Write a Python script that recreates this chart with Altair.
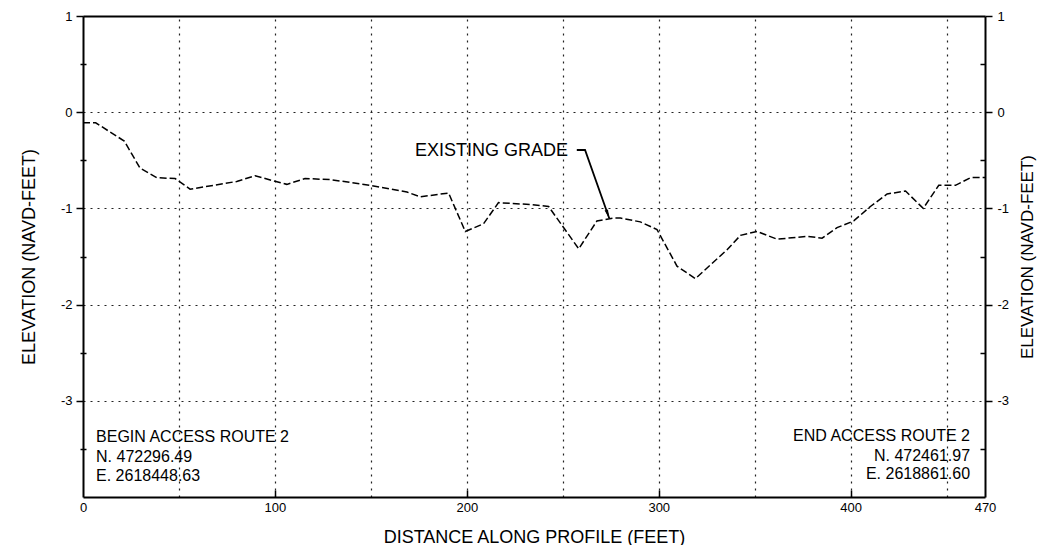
import altair as alt
import pandas as pd

# ---- profile data ----
dist = [0, 6.6, 21.5, 29.7, 38.4, 48, 55.8, 80.1, 89.7, 98.4, 106.2, 115.7, 128.7,
        149.6, 168.8, 175.7, 190.5, 199.2, 208.7, 216.5, 233, 242.6, 258.3, 267.8,
        276.5, 280, 290.4, 299.1, 309.5, 319.1, 335.6, 342.6, 351.2, 361.7, 377.3,
        385.1, 392.9, 401.6, 410.3, 419, 428.6, 437.8, 445.9, 454.6, 462.5, 467.7, 470]
elev = [-0.11, -0.11, -0.30, -0.58, -0.68, -0.69, -0.80, -0.72, -0.66, -0.71, -0.75,
        -0.69, -0.70, -0.76, -0.83, -0.88, -0.84, -1.24, -1.16, -0.94, -0.96, -0.98,
        -1.42, -1.13, -1.10, -1.10, -1.14, -1.22, -1.60, -1.73, -1.43, -1.28, -1.24,
        -1.32, -1.29, -1.31, -1.20, -1.13, -0.98, -0.85, -0.82, -1.00, -0.76, -0.76,
        -0.68, -0.68, -0.68]

# ---- axis values ----
x_domain = [0, 470]
y_domain = [-4, 1]
x_labels = [0, 100, 200, 300, 400, 470]
x_inner_ticks = [100, 200, 300, 400]
x_grid = [50, 100, 150, 200, 250, 300, 350, 400, 450]
y_labels = [1, 0, -1, -2, -3]
y_minor = [0.5, -0.5, -1.5, -2.5, -3.5]

x_title = "DISTANCE ALONG PROFILE (FEET)"
y_title = "ELEVATION (NAVD-FEET)"

# ---- annotations ----
grade_label = ["EXISTING GRADE"]
grade_label_x = [252.7]
grade_label_y = [-0.40]
leader_x = [257.3, 261.6, 274.2]
leader_y = [-0.393, -0.393, -1.103]
arrow_tip_x = [274.2]
arrow_tip_y = [-1.103]

begin_lines = ["BEGIN ACCESS ROUTE 2", "N. 472296.49", "E. 2618448.63"]
begin_x = [6.8, 6.8, 6.8]
begin_y = [-3.376, -3.586, -3.784]
end_lines = ["END ACCESS ROUTE 2", "N. 472461.97", "E. 2618861.60"]
end_x = [462.2, 462.2, 462.2]
end_y = [-3.369, -3.569, -3.766]

FONT = "Liberation Sans"
PLAIN = "'' + datum.value"

profile = pd.DataFrame({"dist": dist, "elev": elev})
xs = alt.Scale(domain=x_domain, nice=False, zero=False)
ys = alt.Scale(domain=y_domain, nice=False, zero=False)

# main dashed line with bottom + left axes
bottom_axis = alt.Axis(
    orient="bottom", values=x_labels, ticks=False, grid=False, domain=True,
    domainColor="black", domainWidth=2, labelFont=FONT, labelFontSize=13,
    labelColor="black", labelPadding=4, labelFlush=False, labelOverlap=False,
    labelExpr=PLAIN, title=x_title, titleFont=FONT, titleFontSize=18,
    titleFontWeight="normal", titleColor="black", titleX=451, titleY=45,
    titleAlign="center", titleBaseline="alphabetic",
)
left_axis = alt.Axis(
    orient="left", values=y_labels, ticks=True, tickSize=7, tickColor="black",
    tickWidth=1.5, grid=True, gridColor="#222222", gridDash=[2, 5], gridWidth=1.2,
    domain=True, domainColor="black", domainWidth=2, labelFont=FONT,
    labelFontSize=13, labelColor="black", labelPadding=4, labelExpr=PLAIN,
    title=y_title, titleFont=FONT, titleFontSize=18, titleFontWeight="normal",
    titleColor="black", titleX=-54, titleY=240.5, titleAngle=270,
    titleAlign="center", titleBaseline="middle",
)
line = alt.Chart(profile).mark_line(
    color="black", strokeWidth=1.5, strokeDash=[7, 3]
).encode(
    x=alt.X("dist:Q", scale=xs, axis=bottom_axis),
    y=alt.Y("elev:Q", scale=ys, axis=left_axis),
)

# frame: top border + vertical grid, right axis
top_axis = alt.Axis(
    orient="top", values=x_grid, labels=False, ticks=False, grid=True,
    gridColor="#222222", gridDash=[2, 5], gridWidth=1.2, domain=True,
    domainColor="black", domainWidth=2, title=None,
)
right_axis = alt.Axis(
    orient="right", values=y_labels, ticks=True, tickSize=7, tickColor="black",
    tickWidth=1.5, grid=False, domain=True, domainColor="black", domainWidth=2,
    labelFont=FONT, labelFontSize=13, labelColor="black", labelPadding=5,
    labelExpr=PLAIN, title=y_title, titleFont=FONT, titleFontSize=17,
    titleFontWeight="normal", titleColor="black", titleX=42, titleY=240.5,
    titleAngle=270, titleAlign="center", titleBaseline="middle",
)
frame = alt.Chart(profile).mark_line(opacity=0).encode(
    x=alt.X("dist:Q", scale=xs, axis=top_axis),
    y=alt.Y("elev:Q", scale=ys, axis=right_axis),
)

# inward ticks on the bottom axis and minor ticks on the left
inner_x_axis = alt.Axis(
    orient="bottom", values=x_inner_ticks, offset=-7, ticks=True, tickSize=7,
    tickColor="black", tickWidth=1.5, labels=False, domain=False, grid=False,
    title=None,
)
minor_left_axis = alt.Axis(
    orient="left", values=y_minor, offset=-3, ticks=True, tickSize=6,
    tickColor="black", tickWidth=1.5, labels=False, domain=False, grid=False,
    title=None,
)
ticks1 = alt.Chart(profile).mark_line(opacity=0).encode(
    x=alt.X("dist:Q", scale=xs, axis=inner_x_axis),
    y=alt.Y("elev:Q", scale=ys, axis=minor_left_axis),
)
minor_right_axis = alt.Axis(
    orient="right", values=y_minor, offset=-5, ticks=True, tickSize=5,
    tickColor="black", tickWidth=1.5, labels=False, domain=False, grid=False,
    title=None,
)
ticks2 = alt.Chart(profile).mark_line(opacity=0).encode(
    x=alt.X("dist:Q", scale=xs, axis=None),
    y=alt.Y("elev:Q", scale=ys, axis=minor_right_axis),
)

# annotations
grade_df = pd.DataFrame({"label": grade_label, "x": grade_label_x, "y": grade_label_y})
grade_text = alt.Chart(grade_df).mark_text(
    align="right", baseline="middle", font=FONT, fontSize=18, color="black"
).encode(
    x=alt.X("x:Q", scale=xs, axis=None),
    y=alt.Y("y:Q", scale=ys, axis=None),
    text="label:N",
)
leader_df = pd.DataFrame({"x": leader_x, "y": leader_y, "o": list(range(len(leader_x)))})
leader = alt.Chart(leader_df).mark_line(color="black", strokeWidth=1.8).encode(
    x=alt.X("x:Q", scale=xs, axis=None),
    y=alt.Y("y:Q", scale=ys, axis=None),
    order="o:Q",
)
tip_df = pd.DataFrame({"x": arrow_tip_x, "y": arrow_tip_y})
arrow_head = alt.Chart(tip_df).mark_point(
    shape="M0,0 L-0.45,-2.2 L0.45,-2.2 Z", filled=True, color="black",
    opacity=1, size=64, angle=340.4,
).encode(
    x=alt.X("x:Q", scale=xs, axis=None),
    y=alt.Y("y:Q", scale=ys, axis=None),
)

begin_df = pd.DataFrame({"label": begin_lines, "x": begin_x, "y": begin_y})
begin_text = alt.Chart(begin_df).mark_text(
    align="left", baseline="middle", font=FONT, fontSize=16, color="black"
).encode(
    x=alt.X("x:Q", scale=xs, axis=None),
    y=alt.Y("y:Q", scale=ys, axis=None),
    text="label:N",
)
end_df = pd.DataFrame({"label": end_lines, "x": end_x, "y": end_y})
end_text = alt.Chart(end_df).mark_text(
    align="right", baseline="middle", font=FONT, fontSize=16, color="black"
).encode(
    x=alt.X("x:Q", scale=xs, axis=None),
    y=alt.Y("y:Q", scale=ys, axis=None),
    text="label:N",
)

chart = alt.layer(
    line, frame, ticks1, ticks2, leader, arrow_head, grade_text, begin_text, end_text
).resolve_axis(
    x="independent", y="independent"
).properties(
    width=902, height=481,
    autosize=alt.AutoSizeParams(type="none"),
    padding={"left": 75, "top": 8, "right": 53, "bottom": 48},
    background="white",
).configure_view(stroke=None)

chart.save("out.html", embed_options={"renderer": "svg", "actions": False})
